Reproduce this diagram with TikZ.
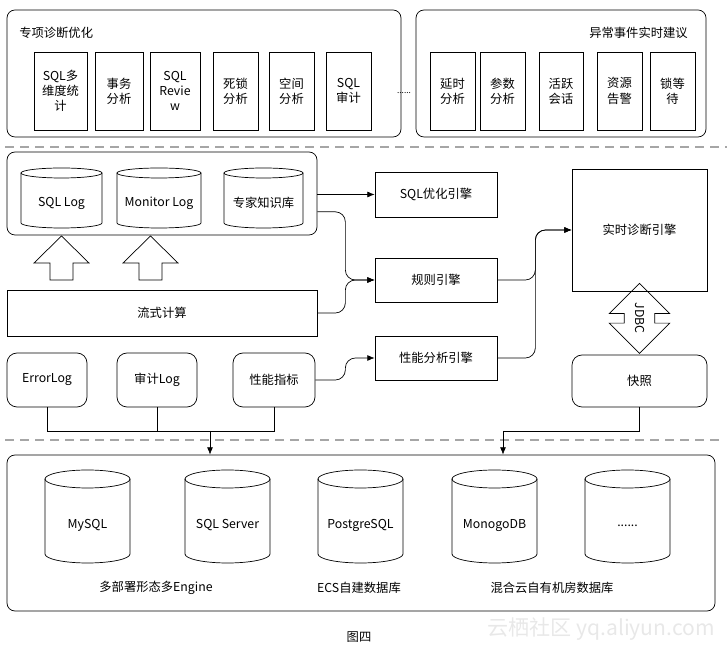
\documentclass[tikz,border=0pt]{standalone}
\usepackage{fontspec}
\setmainfont{Noto Sans CJK SC}
\usetikzlibrary{arrows.meta,calc,positioning,shapes.arrows}

\tikzset{
  sz/.style 2 args={minimum width=#1*0.3mm, minimum height=#2*0.3mm},
  blocco/.style={draw, rectangle, inner sep=1pt, align=center},
  pannello/.style={draw, rounded corners=2.4mm, inner sep=0pt},
  freccia/.style={-{Latex[length=2.2mm,width=1.8mm]}},
  separa/.style={draw=gray!70, line width=0.9pt, dash pattern=on 2.7mm off 1.8mm},
}

% cilindro: nome, x sx, x dx, y alto, y basso, ry, testo
\newcommand{\dbcil}[7]{%
  \pgfmathsetmacro\cxm{(#2+#3)/2}\pgfmathsetmacro\rxm{(#3-#2)/2}
  \draw (#2,#4-#6) -- (#2,#5+#6) arc[start angle=180, end angle=360, x radius=\rxm, y radius=#6] -- (#3,#4-#6);
  \draw (\cxm,#4-#6) ellipse [x radius=\rxm, y radius=#6];
  \node (#1) at (\cxm,{(#4-2*#6+#5)/2}) {#7};
}

\begin{document}
\begin{tikzpicture}[x=0.3mm, y=0.3mm, line width=0.6pt, every node/.style={font=\fontsize{10.5}{13}\selectfont}]
\useasboundingbox (0,0) rectangle (727,650);
% Pannelli in alto
\node[pannello, sz={394}{127}] (pnlDiag) at (204,576.5) {};
\node[pannello, sz={290}{127}] (pnlEvt) at (561,576.5) {};
\node[anchor=west] (titDiag) at (15,617) {专项诊断优化};
\node[anchor=east] (titEvt) at (692,617) {异常事件实时建议};
\foreach \nm/\cx/\w/\txt in {sqlm/60.5/53/{SQL多\\维度统\\计}, tx/119/48/{事务\\分析}, rev/175/50/{SQL\\Revie\\w}, lock/235.5/45/{死锁\\分析}, spc/291.5/45/{空间\\分析}, aud/348.5/45/{SQL\\审计}, lat/452.5/45/{延时\\分析}, par/502.5/45/{参数\\分析}, act/561/44/{活跃\\会话}, res/619.5/45/{资源\\告警}, lw/672.5/45/{锁等\\待}}{
  \node[blocco, sz={\w}{78}] (b\nm) at (\cx,559) {\txt};
}
\node[font=\scriptsize] (dots) at (404,557) {......};

% Separatori
\draw[separa] (5,503) -- (727,503);
\draw[separa] (5,210) -- (722,210);

% Archivi e calcolo
\node[pannello, sz={310}{83}] (pnlStore) at (162,456.5) {};
\dbcil{cSqlLog}{21}{102}{482}{422}{5}{SQL Log}
\dbcil{cMonLog}{117}{201}{482}{422}{5}{Monitor Log}
\dbcil{cKnow}{224}{303}{482}{422}{5}{专家知识库}
\foreach \ax in {61.5,150.5}{
  \draw (\ax-11.5,370) -- (\ax+11.5,370) -- (\ax+11.5,387) -- (\ax+27.5,387) -- (\ax,414) -- (\ax-27.5,387) -- (\ax-11.5,387) -- cycle;
}
\node[blocco, sz={310}{46}] (flow) at (162,337) {流式计算};
\node[blocco, rounded corners=3mm, sz={80}{54}] (errLog) at (47,270) {ErrorLog};
\node[blocco, rounded corners=3mm, sz={80}{54}] (audLog) at (157,270) {审计Log};
\node[blocco, rounded corners=3mm, sz={82}{54}] (perfInd) at (274,270) {性能指标};

% Motori
\node[blocco, sz={122}{45}] (sqlOpt) at (436,455.5) {SQL优化引擎};
\node[blocco, sz={122}{44}] (rule) at (436,370) {规则引擎};
\node[blocco, sz={122}{44}] (perfEng) at (436,292) {性能分析引擎};
\node[blocco, sz={135}{122}] (diagEng) at (639.5,420) {实时诊断引擎};
\node[blocco, rounded corners=3mm, sz={135}{52}] (snap) at (639.5,269) {快照};
\node[draw, double arrow, rotate=-90, double arrow head extend=4.5mm, text height=7pt, text depth=0pt, inner xsep=1pt, inner ysep=9.2pt, minimum height=70*0.3mm] (jdbc) at ($(diagEng.south)+(0,-27)$) {JDBC};

% Database
\node[pannello, sz={708}{156}] (pnlDb) at (361,117) {};
\foreach \nm/\xa/\txt in {my/45/MySQL, ss/185/SQL Server, pg/318/PostgreSQL, mg/452/MonogoDB, more/585/{......}}{
  \dbcil{c\nm}{\xa}{\xa+85}{180}{87}{9}{\txt}
}
\node (lbDeploy) at (156,62) {多部署形态多Engine};
\node (lbEcs) at (359,62) {ECS自建数据库};
\node (lbHyb) at (552,62) {混合云自有机房数据库};
\node (cap) at (359,13) {图四};
\node[text=gray!18, font=\fontsize{18}{20}\selectfont] (wm) at (601,21) {云栖社区 yq.aliyun.com};

% Collegamenti
\draw[freccia] (pnlStore.east |- sqlOpt.west) -- (sqlOpt.west);
\draw[freccia, rounded corners=3mm] ([yshift=-5.5mm]pnlStore.east) -- ++(28,0) |- (rule.west);
\draw[freccia, rounded corners=3mm] (flow.east) -- ++(28,0) |- (rule.west);
\draw[freccia, rounded corners=3mm] (perfInd.east) -- ++(30,0) |- (perfEng.west);
\draw[freccia, rounded corners=3mm] (rule.east) -- ++(38,0) |- (diagEng.west);
\draw[freccia, rounded corners=3mm] (perfEng.east) -- ++(38,0) |- (diagEng.west);
\coordinate (busL) at (210,219);
\coordinate (busR) at (503,219);
\draw (errLog.south) |- (perfInd.south |- busL) -- (perfInd.south);
\draw (audLog.south) -- (audLog.south |- busL);
\draw[freccia] (busL) -- (busL |- pnlDb.north);
\draw (snap.south) |- (busR);
\draw[freccia] (busR) -- (busR |- pnlDb.north);
\end{tikzpicture}
\end{document}
